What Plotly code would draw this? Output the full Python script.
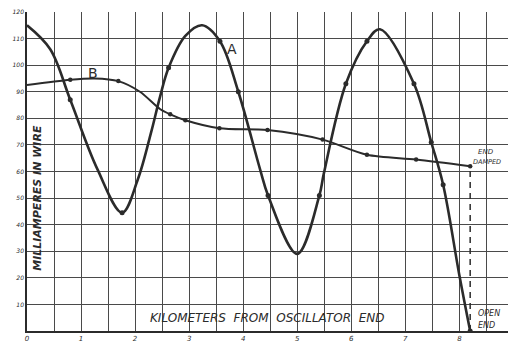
import plotly.graph_objects as go

# Curve A (oscillating current) - km, mA
A_x = [0, 0.43, 0.8, 1.3, 1.76, 2.05, 2.3, 2.46, 2.62, 2.93, 3.24, 3.57, 3.91, 4.31, 4.46, 5.0, 5.41, 5.49, 5.9, 6.29, 6.53, 7.16, 7.48, 7.7, 8.0, 8.2]
A_y = [115, 106, 87, 61, 44.5, 57, 75, 88, 99, 111, 115, 109, 90, 61, 51, 29, 51, 59, 93, 109, 113.5, 93, 71, 55, 21, 0]
A_dots_x = [0.8, 1.76, 2.62, 3.57, 3.91, 4.46, 5.41, 5.9, 6.29, 7.16, 7.48, 7.7, 8.2]
A_dots_y = [87, 44.5, 99, 109, 90, 51, 51, 93, 109, 93, 71, 55, 0]

# Curve B (damped)
B_x = [0, 0.8, 1.25, 1.69, 2.09, 2.46, 2.65, 2.93, 3.56, 4.45, 5.47, 6.29, 7.2, 8.2]
B_y = [92.5, 94.5, 95, 94, 90, 83.5, 81.5, 79.3, 76.3, 75.6, 72, 66.3, 64.5, 62]
B_dots_x = [0.8, 1.69, 2.65, 2.93, 3.56, 4.45, 5.47, 6.29, 7.2, 8.2]
B_dots_y = [94.5, 94, 81.5, 79.3, 76.3, 75.6, 72, 66.3, 64.5, 62]

x_ticks = [0, 1, 2, 3, 4, 5, 6, 7, 8]
y_ticks = [10, 20, 30, 40, 50, 60, 70, 80, 90, 100, 110, 120]

ink = "#2b2b2b"
grid = "#4a4a4a"
hand = "DejaVu Sans"

fig = go.Figure()
fig.add_trace(go.Scatter(x=A_x, y=A_y, mode="lines", line=dict(color=ink, width=2.6, shape="spline", smoothing=1.0), hoverinfo="skip"))
fig.add_trace(go.Scatter(x=A_dots_x, y=A_dots_y, mode="markers", marker=dict(color=ink, size=5), hoverinfo="skip"))
fig.add_trace(go.Scatter(x=B_x, y=B_y, mode="lines", line=dict(color=ink, width=2.0, shape="spline", smoothing=0.8), hoverinfo="skip"))
fig.add_trace(go.Scatter(x=B_dots_x, y=B_dots_y, mode="markers", marker=dict(color=ink, size=4.5), hoverinfo="skip"))
fig.add_trace(go.Scatter(x=[B_x[-1], B_x[-1]], y=[0, B_y[-1]], mode="lines", line=dict(color=ink, width=1.5, dash="6px,5px"), hoverinfo="skip"))

anns = [
    dict(x=3.8, y=106, text="A", font=dict(size=14, color=ink, family=hand)),
    dict(x=1.22, y=97, text="B", font=dict(size=14, color=ink, family=hand)),
    dict(x=8.3, y=67.5, text="END", xanchor="left", font=dict(size=7, color=ink, family=hand, style="italic")),
    dict(x=8.22, y=63.5, text="DAMPED", xanchor="left", font=dict(size=6.5, color=ink, family=hand, style="italic")),
    dict(x=8.3, y=6.5, text="OPEN", xanchor="left", font=dict(size=8, color=ink, family=hand, style="italic")),
    dict(x=8.3, y=2, text="END", xanchor="left", font=dict(size=8, color=ink, family=hand, style="italic")),
    dict(x=4.45, y=5, text="KILOMETERS  FROM  OSCILLATOR  END", font=dict(size=12, color=ink, family=hand, style="italic")),
    dict(x=0.18, y=50, text="MILLIAMPERES IN WIRE", textangle=-90, font=dict(size=11, color=ink, family=hand, style="italic", weight="bold")),
]
for a in anns:
    a.setdefault("xanchor", "center")
    fig.add_annotation(showarrow=False, xref="x", yref="y", **a)

fig.update_layout(
    width=508, height=344,
    margin=dict(l=27, r=0, t=12, b=13),
    paper_bgcolor="white", plot_bgcolor="white",
    showlegend=False,
    xaxis=dict(range=[0, 8.9], tickvals=x_ticks, ticktext=[str(v) for v in x_ticks],
               showgrid=True, gridcolor=grid, gridwidth=1.3, zeroline=False,
               showline=True, linecolor=ink, linewidth=1.6, ticks="", automargin=False,
               tickfont=dict(size=7, color=ink, family=hand, style="italic"),
               minor=dict(dtick=0.5, tick0=0, showgrid=True, gridcolor=grid, gridwidth=1.3)),
    yaxis=dict(range=[0, 120], tickvals=y_ticks, ticktext=[str(v) for v in y_ticks],
               showgrid=True, gridcolor=grid, gridwidth=1.3, zeroline=False,
               showline=True, linecolor=ink, linewidth=1.6, ticks="", automargin=False,
               tickfont=dict(size=6, color=ink, family=hand, style="italic")),
)
fig.write_html("out.html", config={"displayModeBar": False},
               post_script="document.body.style.margin='0';document.body.style.overflow='hidden';")
